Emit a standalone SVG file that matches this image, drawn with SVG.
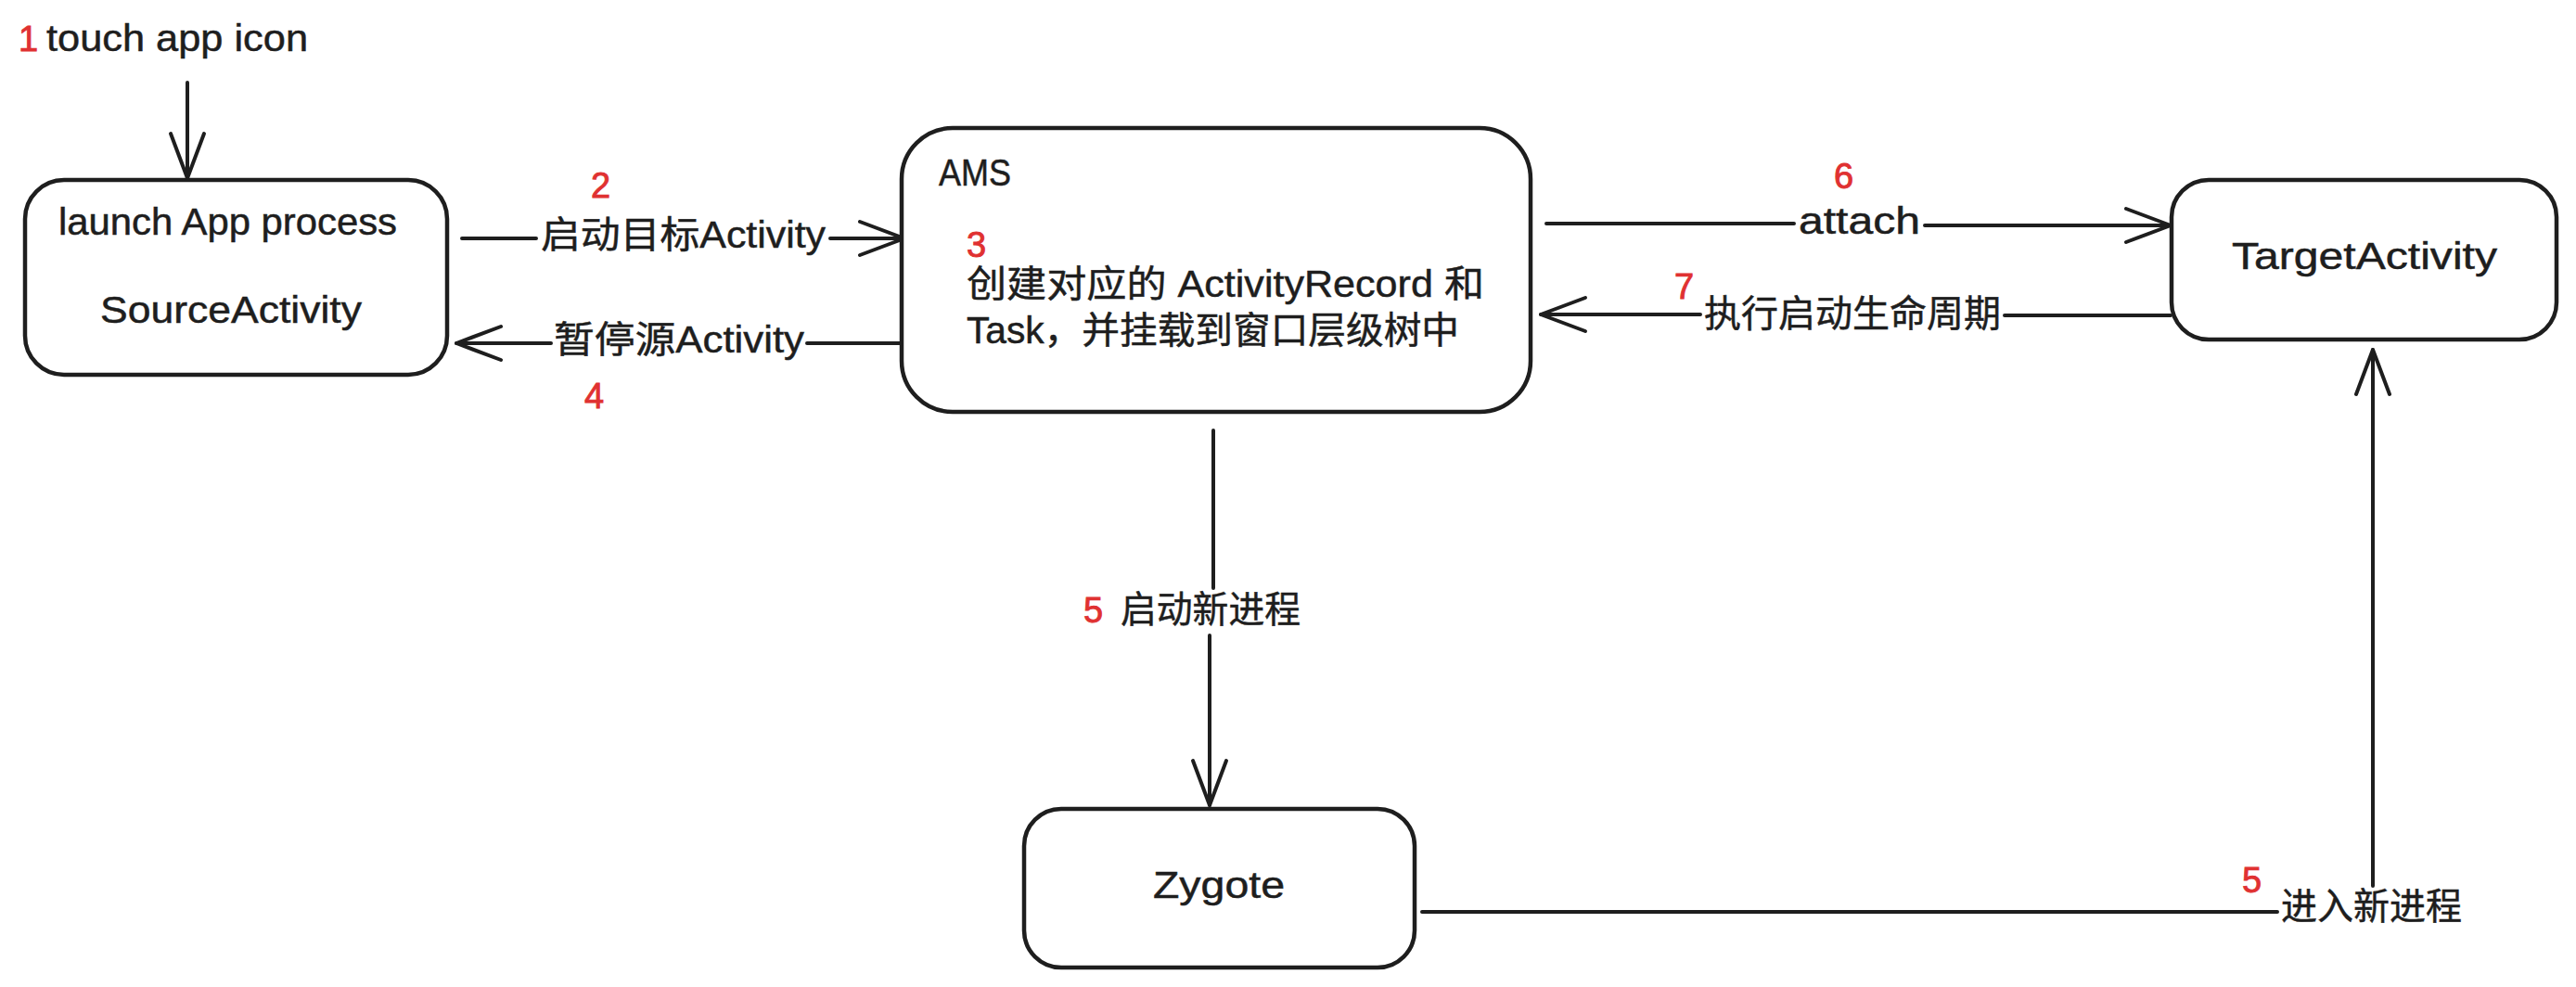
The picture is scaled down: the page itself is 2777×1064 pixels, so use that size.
<svg xmlns="http://www.w3.org/2000/svg" width="2777" height="1064" viewBox="0 0 2777 1064">
  <defs>
    <style>
      .box { fill: #ffffff; stroke: #1e1e1e; stroke-width: 4.5; }
      .edge { fill: none; stroke: #1e1e1e; stroke-width: 4; stroke-linecap: round; stroke-linejoin: round; }
      .t { font-family: "Liberation Sans", "Noto Sans CJK SC", sans-serif; font-size: 40px; fill: #1e1e1e; stroke: #1e1e1e; stroke-width: 0.5; }
      .n { font-family: "Liberation Sans", "Noto Sans CJK SC", sans-serif; font-size: 38px; fill: #e03131; stroke: #e03131; stroke-width: 0.9; }
    </style>
    <marker id="ah" markerUnits="userSpaceOnUse" markerWidth="70" markerHeight="50" viewBox="-56 -25 62 50" refX="0" refY="0" orient="auto">
      <path d="M-48,-18 L0,0 L-48,18" fill="none" stroke="#1e1e1e" stroke-width="4" stroke-linecap="round" stroke-linejoin="round"/>
    </marker>
  </defs>
  <rect width="2777" height="1064" fill="#ffffff"/>

  <g id="connectors">
    <path class="edge" d="M202,89 V192" marker-end="url(#ah)"/>
    <path class="edge" d="M498,257 H578 M895,257 H975" marker-end="url(#ah)"/>
    <path class="edge" d="M972,370 H870 M594,370 H492" marker-end="url(#ah)"/>
    <path class="edge" d="M1667,241 H1934 M2075,243 H2340" marker-end="url(#ah)"/>
    <path class="edge" d="M2340,340 H2161 M1833,339 H1661" marker-end="url(#ah)"/>
    <path class="edge" d="M1308,464 V634 M1304,685 V868" marker-end="url(#ah)"/>
    <path class="edge" d="M1533,983 H2455 M2558,955 V377" marker-end="url(#ah)"/>
  </g>

  <g id="edge-labels">
    <text class="n" x="20" y="55">1</text>
    <text class="t" x="50" y="55" textLength="282" lengthAdjust="spacingAndGlyphs">touch app icon</text>
    <text class="n" x="637" y="213">2</text>
    <text class="t" x="583" y="267" textLength="307" lengthAdjust="spacingAndGlyphs">启动目标Activity</text>
    <text class="t" x="597" y="380" textLength="270" lengthAdjust="spacingAndGlyphs">暂停源Activity</text>
    <text class="n" x="630" y="440">4</text>
    <text class="n" x="1977" y="203">6</text>
    <text class="t" x="1939" y="252" textLength="131" lengthAdjust="spacingAndGlyphs">attach</text>
    <text class="n" x="1805" y="322">7</text>
    <text class="t" x="1837" y="352" textLength="320" lengthAdjust="spacingAndGlyphs">执行启动生命周期</text>
    <text class="n" x="1168" y="671">5</text>
    <text class="t" x="1208" y="671" textLength="194" lengthAdjust="spacingAndGlyphs">启动新进程</text>
    <text class="n" x="2417" y="962">5</text>
    <text class="t" x="2459" y="991" textLength="195" lengthAdjust="spacingAndGlyphs">进入新进程</text>
  </g>

  <g id="node-source">
    <rect class="box" x="27" y="194" width="455" height="210" rx="42" ry="42"/>
    <text class="t" x="63" y="253" textLength="365" lengthAdjust="spacingAndGlyphs">launch App process</text>
    <text class="t" x="108" y="348" textLength="282" lengthAdjust="spacingAndGlyphs">SourceActivity</text>
  </g>

  <g id="node-ams">
    <rect class="box" x="972" y="138" width="678" height="306" rx="55" ry="55"/>
    <text class="t" x="1012" y="200" textLength="78" lengthAdjust="spacingAndGlyphs">AMS</text>
    <text class="n" x="1042" y="277">3</text>
    <text class="t" x="1042" y="320" textLength="558" lengthAdjust="spacingAndGlyphs">创建对应的 ActivityRecord 和</text>
    <text class="t" x="1042" y="370" textLength="531" lengthAdjust="spacingAndGlyphs">Task，并挂载到窗口层级树中</text>
  </g>

  <g id="node-target">
    <rect class="box" x="2341" y="194" width="415" height="172" rx="40" ry="40"/>
    <text class="t" x="2406" y="290" textLength="286" lengthAdjust="spacingAndGlyphs">TargetActivity</text>
  </g>

  <g id="node-zygote">
    <rect class="box" x="1104" y="872" width="421" height="171" rx="40" ry="40"/>
    <text class="t" x="1243" y="968" textLength="142" lengthAdjust="spacingAndGlyphs">Zygote</text>
  </g>
</svg>
